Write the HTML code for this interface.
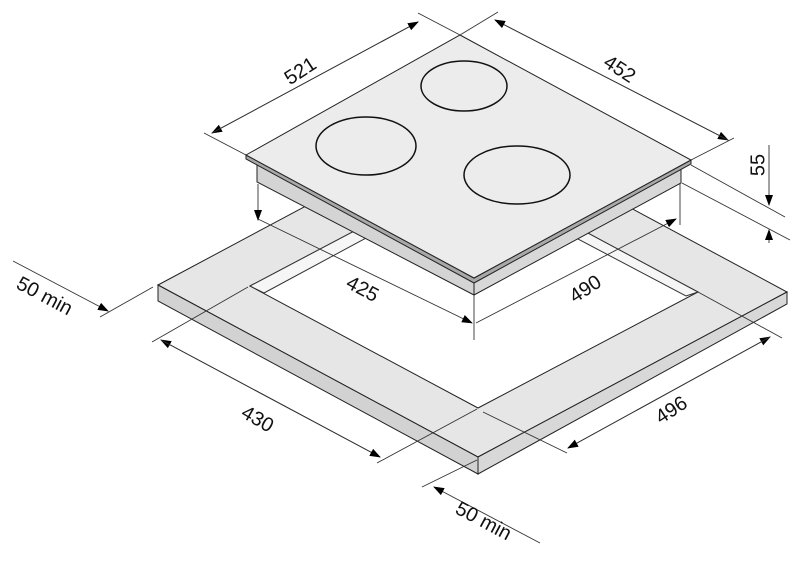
<!DOCTYPE html>
<html><head><meta charset="utf-8"><style>
html,body{margin:0;padding:0;background:#fff;}
svg{display:block;}
text{font-family:"Liberation Sans",Arial,sans-serif;font-size:20px;fill:#111;}
</style></head><body>
<svg width="800" height="561" viewBox="0 0 800 561" xmlns="http://www.w3.org/2000/svg">
<defs>
<marker id="a" markerWidth="11" markerHeight="8" refX="10" refY="4" orient="auto" markerUnits="userSpaceOnUse">
<path d="M0,0 L11,4 L0,8 Z" fill="#000"/></marker>
</defs>
<g stroke="#222" stroke-width="1" fill="none">
<path d="M158,285 L467,120 L787,292 L478,457 Z M250,286 L478,408 L698,292 L470,170 Z" fill="#e6e6e6" fill-rule="evenodd" stroke="#222"/>
<polygon points="250,286 470,170 470,182 264,293" fill="#f6f6f6" stroke="#333"/>
<polygon points="470,170 698,292 686,296 470,182" fill="#f6f6f6" stroke="#333"/>
<polygon points="158,285 478,457 478,474 158,301" fill="#d2d2d2"/>
<polygon points="478,457 787,292 787,304 478,474" fill="#d8d8d8"/>
</g>
<g stroke="#222" stroke-width="1">
<polygon points="257,161 474,282 474,295 257,182" fill="#d4d4d4"/>
<polygon points="474,282 681,166 681,183 474,295" fill="#d8d8d8"/>
<polygon points="246,155 474,278 691,160 691,164 474,283 246,159" fill="#a8a8a8"/>
<polygon points="246,155 460,35 691,160 474,278" fill="#ececec"/>
<ellipse cx="464" cy="86" rx="43" ry="25" fill="none" stroke="#111" stroke-width="1.5"/>
<ellipse cx="366" cy="146" rx="50" ry="29" fill="none" stroke="#111" stroke-width="1.5"/>
<ellipse cx="517" cy="175" rx="53" ry="29" fill="none" stroke="#111" stroke-width="1.5"/>
</g>
<g stroke="#333" stroke-width="0.9" fill="none">
<line x1="246" y1="155" x2="204" y2="133"/>
<line x1="460" y1="35" x2="418" y2="13"/>
<line x1="460" y1="35" x2="498" y2="12"/>
<line x1="691" y1="160" x2="734" y2="138"/>
<line x1="495" y1="20" x2="728" y2="140" marker-end="url(#a)"/>
<line x1="728" y1="140" x2="495" y2="20" marker-end="url(#a)"/>
<line x1="418" y1="22" x2="212" y2="133" marker-end="url(#a)"/>
<line x1="212" y1="133" x2="418" y2="22" marker-end="url(#a)"/>
<line x1="691" y1="165" x2="785" y2="217"/>
<line x1="682" y1="183" x2="790" y2="240"/>
<line x1="769" y1="145" x2="769" y2="205" marker-end="url(#a)"/>
<line x1="769" y1="243" x2="769" y2="230" marker-end="url(#a)"/>
<line x1="258" y1="184" x2="258" y2="220" marker-end="url(#a)"/>
<line x1="680" y1="184" x2="680" y2="225"/>
<line x1="474" y1="295" x2="474" y2="340"/>
<line x1="258" y1="219" x2="472" y2="323" marker-end="url(#a)"/>
<line x1="476" y1="323" x2="676" y2="219" marker-end="url(#a)"/>
<line x1="13" y1="261" x2="108" y2="311" marker-end="url(#a)"/>
<line x1="100" y1="317" x2="153" y2="287"/>
<line x1="152" y1="342" x2="248" y2="287"/>
<line x1="380" y1="457" x2="161" y2="340" marker-end="url(#a)"/>
<line x1="161" y1="340" x2="380" y2="457" marker-end="url(#a)"/>
<line x1="377" y1="463" x2="477" y2="409"/>
<line x1="422" y1="487" x2="477" y2="460"/>
<line x1="540" y1="543" x2="434" y2="487" marker-end="url(#a)"/>
<line x1="483" y1="412" x2="567" y2="453"/>
<line x1="698" y1="292" x2="782" y2="338"/>
<line x1="568" y1="448" x2="770" y2="337" marker-end="url(#a)"/>
<line x1="770" y1="337" x2="568" y2="448" marker-end="url(#a)"/>
</g>
<text transform="translate(301,72) rotate(-33)" text-anchor="middle" dominant-baseline="middle">521</text>
<text transform="translate(619,70) rotate(33)" text-anchor="middle" dominant-baseline="middle">452</text>
<text transform="translate(759,165) rotate(-90)" text-anchor="middle" dominant-baseline="middle">55</text>
<text transform="translate(362,290) rotate(28)" text-anchor="middle" dominant-baseline="middle">425</text>
<text transform="translate(586,290) rotate(-33)" text-anchor="middle" dominant-baseline="middle">490</text>
<text transform="translate(257,420) rotate(30)" text-anchor="middle" dominant-baseline="middle">430</text>
<text transform="translate(672,411) rotate(-33)" text-anchor="middle" dominant-baseline="middle">496</text>
<text transform="translate(44,297) rotate(28)" text-anchor="middle" dominant-baseline="middle">50 min</text>
<text transform="translate(483,522) rotate(28)" text-anchor="middle" dominant-baseline="middle">50 min</text>
</svg>
</body></html>
